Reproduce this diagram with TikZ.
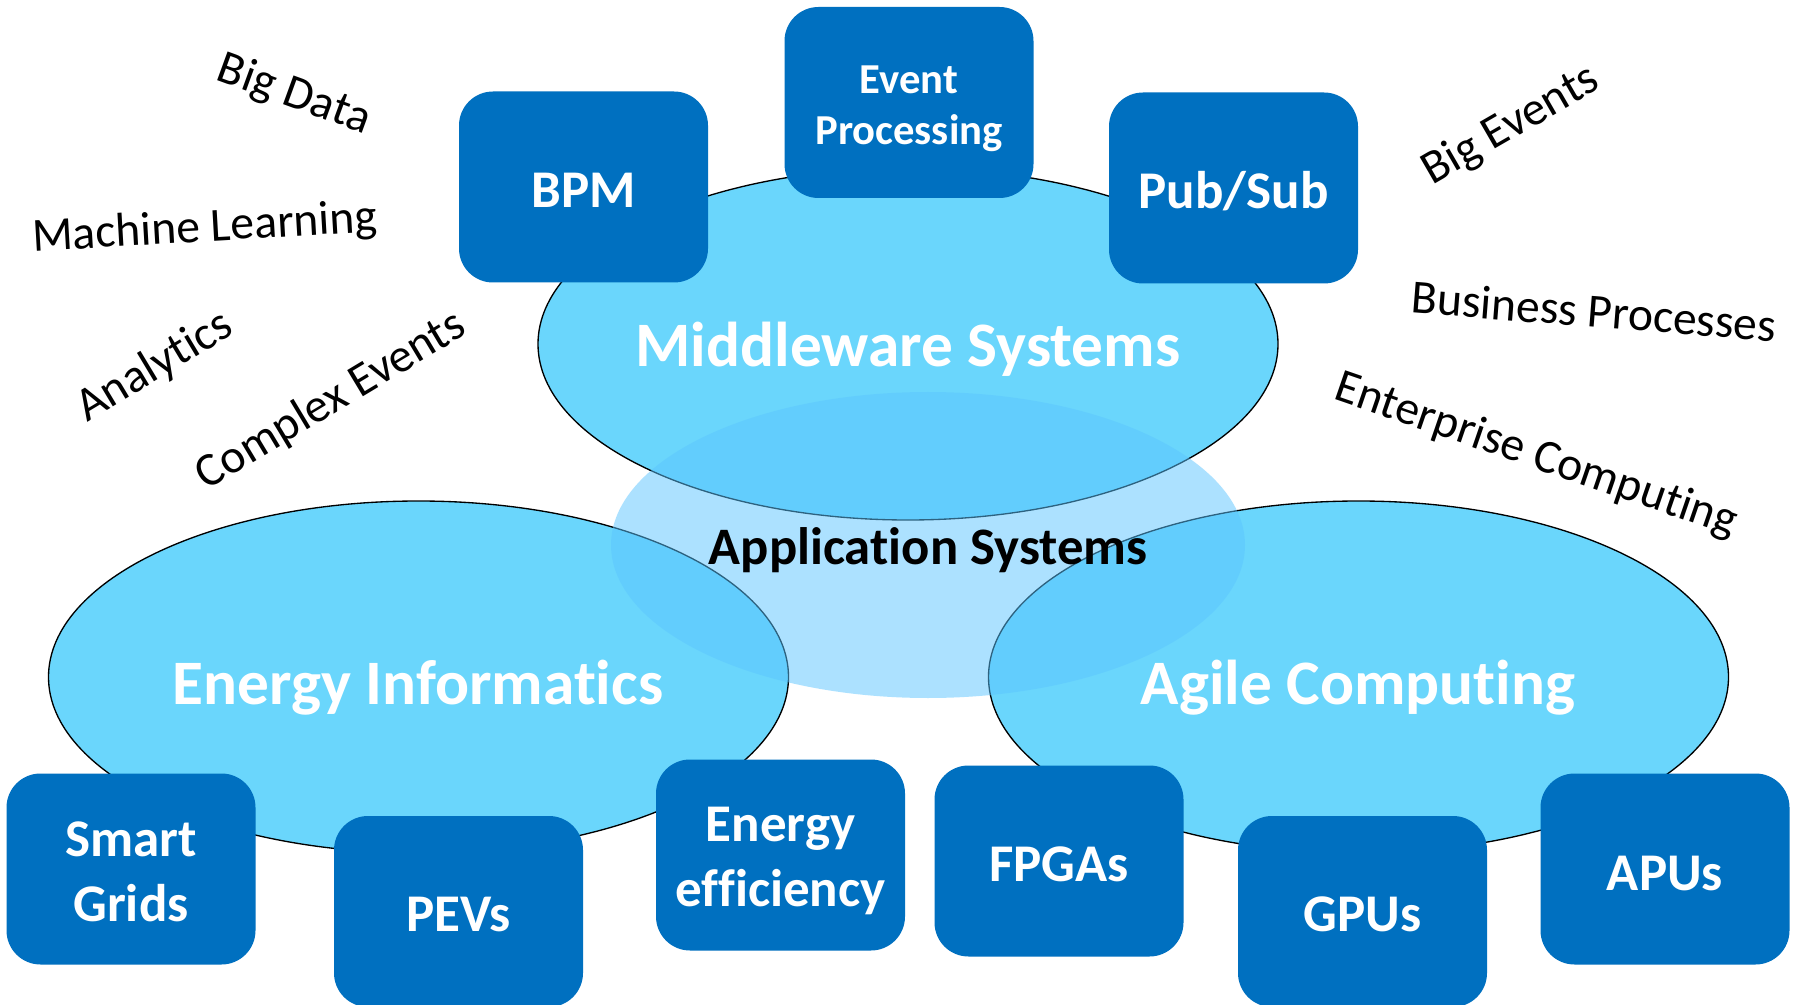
\documentclass[tikz,border=0pt]{standalone}
\usepackage{fontspec}
\setmainfont{Carlito}[Ligatures={NoCommon}]
\usetikzlibrary{shapes.geometric}
\definecolor{boxblue}{HTML}{0070C0}
\definecolor{skyfill}{HTML}{6AD6FC}
\definecolor{appfill}{HTML}{5BC5FF}
\begin{document}
\begin{tikzpicture}[x=0.75pt,y=-0.75pt,
  area/.style={ellipse, draw=black, line width=1pt, fill=skyfill, inner sep=0pt,
    minimum width=555pt, minimum height=264pt},
  apparea/.style={ellipse, fill=appfill, fill opacity=0.5, inner sep=0pt,
    minimum width=475.5pt, minimum height=229.5pt},
  arealabel/.style={text=white, font=\fontsize{47.5}{52}\selectfont\bfseries, inner sep=0pt},
  applabel/.style={text=black, font=\fontsize{39.5}{44}\selectfont\bfseries, inner sep=0pt},
  topic/.style={rounded corners=25.5pt, fill=boxblue,
    minimum width=186.75pt, minimum height=143.25pt, inner sep=0pt},
  topictext/.style={text=white, align=center, inner sep=0pt,
    font=\fontsize{39.75}{48.5}\selectfont\bfseries},
  smalltext/.style={topictext, font=\fontsize{32}{38}\selectfont\bfseries},
  keyword/.style={text=black, font=\fontsize{35.7}{40}\selectfont, inner sep=0pt}]

\useasboundingbox (0,0) rectangle (1796,1005);
\fill[white] (0,0) rectangle (1796,1005);

% three research areas
\node[area] (mw) at (908,344) {};
\node[area] (ei) at (418.5,677) {};
\node[area] (ac) at (1358.5,677) {};

% shared application layer, translucent over the areas
\node[apparea] (app) at (928,545) {};

\node[arealabel] (mwlabel) at (908,349.5) {Middleware Systems};
\node[arealabel] (eilabel) at (418,687.5) {Energy Informatics};
\node[arealabel] (aclabel) at (1358,687.5) {Agile Computing};

% topic boxes
\node[topic] (bpm) at (583.5,187) {};
\node[topic] (ep) at (909,102.5) {};
\node[topic] (ps) at (1233.5,188) {};
\node[topic] (sg) at (131,869) {};
\node[topic] (pev) at (458.5,911.5) {};
\node[topic] (ee) at (780.5,855) {};
\node[topic] (fpga) at (1059,861) {};
\node[topic] (gpu) at (1362.5,911.5) {};
\node[topic] (apu) at (1665,869) {};

% box captions
\node[topictext] (bpm-t) at ([yshift=-2.6pt]bpm.center) {BPM};
\node[smalltext] (ep-t) at ([yshift=-4.7pt]ep.center) {Event\\Processing};
\node[topictext] (ps-t) at ([yshift=-2.6pt]ps.center) {Pub/Sub};
\node[topictext] (sg-t) at ([yshift=-2.2pt]sg.center) {Smart\\Grids};
\node[topictext] (pev-t) at ([yshift=-2.2pt]pev.center) {PEVs};
\node[topictext] (ee-t) at ([yshift=-4.5pt]ee.center) {Energy\\efficiency};
\node[topictext] (fpga-t) at ([yshift=-2.6pt]fpga.center) {FPGAs};
\node[topictext] (gpu-t) at ([yshift=-2.2pt]gpu.center) {GPUs};
\node[topictext] (apu-t) at ([yshift=-3.2pt]apu.center) {APUs};

\node[applabel] (applabel) at (928,550.5) {Application Systems};

% surrounding keywords
\node[keyword, rotate=-20] (bigdata) at (294,95) {Big Data};
\node[keyword, rotate=3.3] (ml) at (205,229) {Machine Learning};
\node[keyword, rotate=31] (analytics) at (155,367) {Analytics};
\node[keyword, rotate=31] (cplx) at (331,401) {Complex Events};
\node[keyword, rotate=30] (bigev) at (1511,126) {Big Events};
\node[keyword, rotate=-4.5] (bp) at (1594,311) {Business Processes};
\node[keyword, rotate=-19] (ent) at (1536,456) {Enterprise Computing};
\end{tikzpicture}
\end{document}
